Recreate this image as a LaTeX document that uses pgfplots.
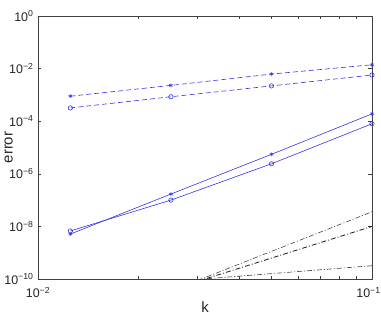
\documentclass[border=0pt]{standalone}
\usepackage{fontspec}
\setmainfont{Liberation Sans}
\usepackage{pgfplots}
\pgfplotsset{compat=1.18}
\definecolor{mb}{rgb}{0.2,0.2,0.92}
\begin{document}
\begin{tikzpicture}
\useasboundingbox (-38bp,-38bp) rectangle (343bp,279bp);
\begin{axis}[
  at={(0,0)}, anchor=south west,
  scale only axis, width=334bp, height=263bp,
  xmode=log, ymode=log,
  xmin=0.01, xmax=0.1, ymin=1e-10, ymax=1,
  xtick={0.01,0.1},
  xticklabels={10\textsuperscript{−2},\hspace*{-7bp}10\textsuperscript{−1}},
  minor xtick={0.02,0.03,0.04,0.05,0.06,0.07,0.08,0.09},
  ytick={1e-10,1e-8,1e-6,1e-4,1e-2,1},
  yticklabels={10\textsuperscript{−10},10\textsuperscript{−8},10\textsuperscript{−6},10\textsuperscript{−4},10\textsuperscript{−2},10\textsuperscript{0}},
  yminorticks=false,
  tick align=inside,
  major tick length=3.5bp, minor tick length=3.5bp,
  axis line style={black!75, line width=0.7pt},
  every tick/.style={black!75, line width=0.5pt},
  tick label style={font=\fontsize{12.5}{14}\selectfont, black!85},
  xticklabel style={yshift=-5bp},
  yticklabel style={xshift=-1bp},
  xlabel={k}, ylabel={error},
  xlabel style={font=\fontsize{15}{17}\selectfont, black!85, yshift=3bp},
  every axis y label/.style={at={(axis description cs:-0.088,0.5)}, rotate=90, anchor=center, font=\fontsize{15}{17}\selectfont, black!85},
  clip=true,
]
% dashed series
\addplot[mb, line width=0.6pt, dash pattern=on 5bp off 3bp, mark=asterisk, mark size=2pt, mark options={solid}] coordinates {
  (0.0125,8.9e-4) (0.025,2.3e-3) (0.05,6.2e-3) (0.1,1.4e-2)};
\addplot[mb, line width=0.6pt, dash pattern=on 5bp off 3bp, mark=o, mark size=2.2pt, mark options={solid}] coordinates {
  (0.0125,3.2e-4) (0.025,8.5e-4) (0.05,2.2e-3) (0.1,5.7e-3)};
% solid series
\addplot[mb, line width=0.6pt, solid, mark=asterisk, mark size=2pt] coordinates {
  (0.0125,5.1e-9) (0.025,1.7e-7) (0.05,5.5e-6) (0.1,1.9e-4)};
\addplot[mb, line width=0.6pt, solid, mark=o, mark size=2.2pt] coordinates {
  (0.0125,6.7e-9) (0.025,1.0e-7) (0.05,2.4e-6) (0.1,8.0e-5)};
% reference lines
\addplot[black!75, line width=0.6pt, dash pattern=on 5bp off 2bp on 1bp off 2bp] coordinates {(0.03,8.7e-11) (0.1,3.6e-8)};
\addplot[black!90, line width=0.8pt, dash pattern=on 5bp off 2bp on 1bp off 2bp] coordinates {(0.03,8.1e-11) (0.1,1.0e-8)};
\addplot[black!75, line width=0.6pt, dash pattern=on 5bp off 2bp on 1bp off 2bp] coordinates {(0.03,9.6e-11) (0.1,3.2e-10)};
\end{axis}
\end{tikzpicture}
\end{document}
